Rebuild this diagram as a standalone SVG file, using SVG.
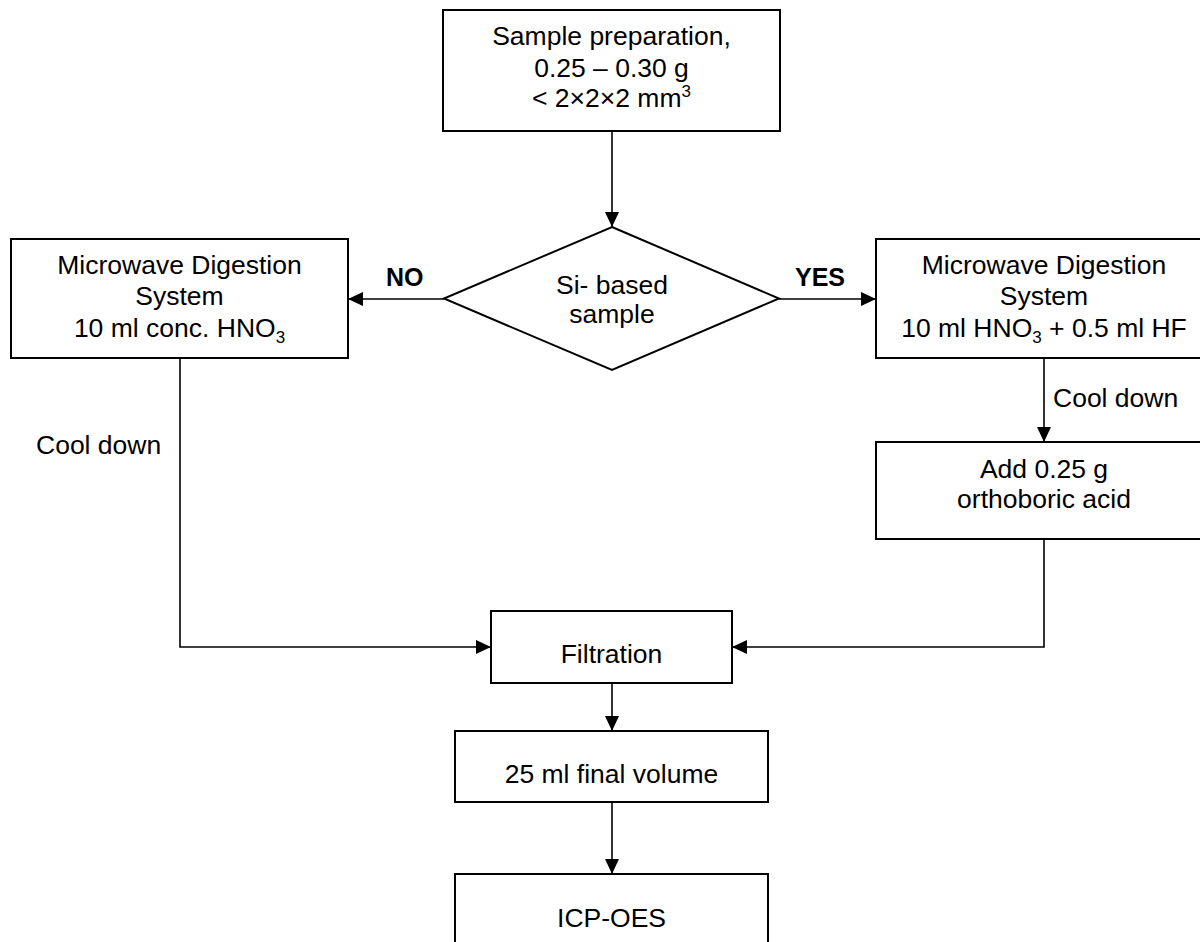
<svg xmlns="http://www.w3.org/2000/svg" width="1200" height="942" viewBox="0 0 1200 942">
<defs>
<style>
.box{fill:#fff;stroke:#000;stroke-width:2}
.t{font-family:"Liberation Sans",Arial,sans-serif;font-size:26.5px;fill:#000;text-anchor:middle}
.l{font-family:"Liberation Sans",Arial,sans-serif;font-size:26.5px;fill:#000}
.b{font-family:"Liberation Sans",Arial,sans-serif;font-size:25px;font-weight:bold;fill:#000}
.c{fill:none;stroke:#000;stroke-width:1.6}
</style>
<marker id="ah" viewBox="0 0 15 14" refX="15" refY="7" markerWidth="15" markerHeight="14" markerUnits="userSpaceOnUse" orient="auto">
<path d="M0 0 L15 7 L0 14 Z" fill="#000"/>
</marker>
</defs>
<rect width="1200" height="942" fill="#fff"/>
<g id="connectors">
<path class="c" d="M612 131 V227" marker-end="url(#ah)"/>
<path class="c" d="M444 299 H348" marker-end="url(#ah)"/>
<path class="c" d="M779 299 H876" marker-end="url(#ah)"/>
<path class="c" d="M180 358 V647 H491" marker-end="url(#ah)"/>
<path class="c" d="M1044 358 V442" marker-end="url(#ah)"/>
<path class="c" d="M1044 539 V647 H732" marker-end="url(#ah)"/>
<path class="c" d="M612 683 V731" marker-end="url(#ah)"/>
<path class="c" d="M612 802 V874" marker-end="url(#ah)"/>
<text class="b" x="386" y="286">NO</text>
<text class="b" x="795" y="286">YES</text>
<text class="l" x="36" y="454">Cool down</text>
<text class="l" x="1053" y="407">Cool down</text>
</g>
<g id="sample-prep">
<rect class="box" x="443" y="10" width="337" height="121"/>
<text class="t" x="611.5" y="45">Sample preparation,</text>
<text class="t" x="611.5" y="77">0.25 – 0.30 g</text>
<text class="t" x="611.5" y="107">&lt; 2×2×2 mm<tspan font-size="17" dy="-10">3</tspan></text>
</g>
<g id="decision">
<polygon class="box" points="612,227 779,298.5 612,370 444,298.5"/>
<text class="t" x="612" y="294">Si- based</text>
<text class="t" x="612" y="323">sample</text>
</g>
<g id="mw-left">
<rect class="box" x="11" y="239" width="337" height="119"/>
<text class="t" x="179.5" y="274">Microwave Digestion</text>
<text class="t" x="179.5" y="305">System</text>
<text class="t" x="179.5" y="337">10 ml conc. HNO<tspan font-size="17" dy="6">3</tspan></text>
</g>
<g id="mw-right">
<rect class="box" x="876" y="239" width="336" height="119"/>
<text class="t" x="1044" y="274">Microwave Digestion</text>
<text class="t" x="1044" y="305">System</text>
<text class="t" x="1044" y="337">10 ml HNO<tspan font-size="17" dy="6">3</tspan><tspan dy="-6"> + 0.5 ml HF</tspan></text>
</g>
<g id="add-boric">
<rect class="box" x="876" y="442" width="336" height="97"/>
<text class="t" x="1044" y="478">Add 0.25 g</text>
<text class="t" x="1044" y="508">orthoboric acid</text>
</g>
<g id="filtration">
<rect class="box" x="491" y="611" width="241" height="72"/>
<text class="t" x="611.5" y="663">Filtration</text>
</g>
<g id="final-volume">
<rect class="box" x="455" y="731" width="313" height="71"/>
<text class="t" x="611.5" y="783">25 ml final volume</text>
</g>
<g id="icp">
<rect class="box" x="455" y="874" width="313" height="100"/>
<text class="t" x="611.5" y="927">ICP-OES</text>
</g>
</svg>
